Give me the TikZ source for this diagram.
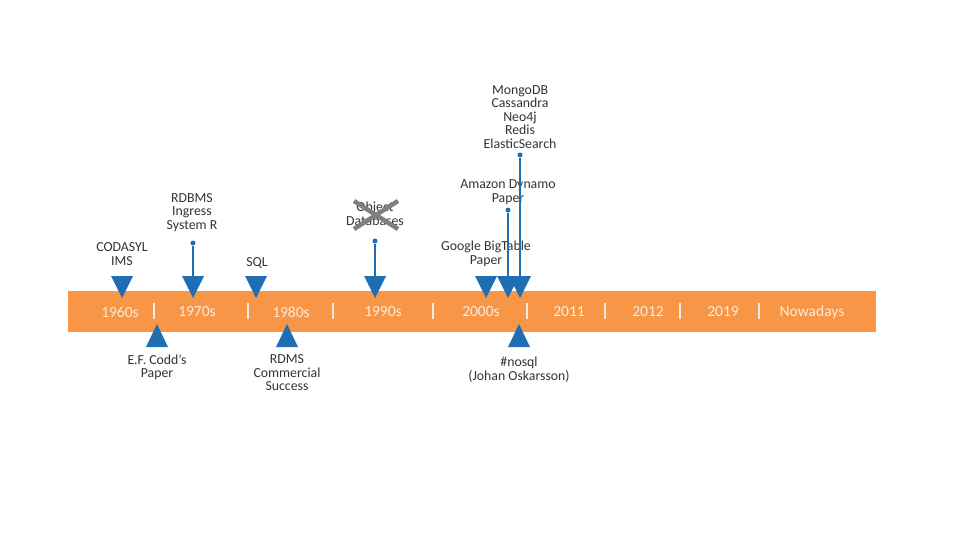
\documentclass[tikz,border=0pt]{standalone}
\usepackage{fontspec}
\setmainfont{Carlito}
\definecolor{barO}{HTML}{F79646}
\definecolor{tipB}{HTML}{1F6EB4}
\definecolor{txtG}{HTML}{333333}
\definecolor{yrC}{HTML}{FDEADA}
\definecolor{crossG}{HTML}{808080}
\newcommand{\downtip}[2]{% name x
  \fill[tipB] ({#2-11},276) -- ({#2+11},276) -- (#2,298) -- cycle;
  \coordinate (#1) at (#2,277);
}
\newcommand{\uptip}[2]{% name x
  \fill[tipB] ({#2-11},347) -- ({#2+11},347) -- (#2,324) -- cycle;
  \coordinate (#1) at (#2,347);
}
\begin{document}
\begin{tikzpicture}[x=1pt, y=-1pt,
  lbl/.style={text=txtG, align=center, inner sep=0pt, font=\fontsize{13.8}{13.5}\selectfont},
  yr/.style={text=yrC, inner sep=0pt, font=\fontsize{15.5}{16}\selectfont},
  stem/.style={tipB, line width=2pt},
  dot/.style={circle, fill=tipB, inner sep=0pt, minimum size=5pt}]
  \useasboundingbox (0,0) rectangle (960,540);

  % the timeline bar with its periods
  \fill[barO] (68,291) rectangle (876,332);
  \foreach \x/\t in {120/1960s, 197/1970s, 291/1980s, 383/1990s, 481/2000s,
                     569/2011, 648/2012, 723/2019, 812/Nowadays}
    \node[yr] (p\t) at (\x,312) {\t};
  \foreach \x in {154, 248, 333, 433, 527, 605, 680, 759}
    \draw[yrC, line width=1.8pt] (\x,303) -- (\x,319);

  % markers above the bar
  \downtip{tCodasyl}{122}
  \downtip{tRdbms}{193}
  \downtip{tSql}{256}
  \downtip{tObject}{375}
  \downtip{tGoogle}{486}
  \downtip{tAmazon}{508}
  \downtip{tMongo}{520}

  % markers below the bar
  \uptip{tCodd}{157}
  \uptip{tRdms}{287}
  \uptip{tNosql}{519}

  % labels
  \node[lbl] (lCodasyl) at (122,254) {CODASYL\\IMS};
  \node[lbl] (lRdbms) at (192,212.5) {RDBMS\\Ingress\\System R};
  \node[lbl] (lSql) at (257,263) {SQL};
  \node[lbl] (lObject) at (375,214) {Object\\Databases};
  \node[lbl] (lGoogle) at (486,254) {Google BigTable\\Paper};
  \node[lbl] (lAmazon) at (508,192) {Amazon Dynamo\\Paper};
  \node[lbl] (lMongo) at (520,117) {MongoDB\\Cassandra\\Neo4j\\Redis\\ElasticSearch};
  \node[lbl] (lCodd) at (157,367) {E.F. Codd’s\\Paper};
  \node[lbl] (lRdms) at (287,373) {RDMS\\Commercial\\Success};
  \node[lbl] (lNosql) at (519,369.5) {\#nosql\\(Johan Oskarsson)};

  % crossed out
  \draw[crossG, line width=4.5pt] (354,201) -- (398,229);
  \draw[crossG, line width=4.5pt] (398,201) -- (354,229);

  % stems
  \node[dot] (dRdbms) at (193,243) {};
  \node[dot] (dObject) at (375,241) {};
  \node[dot] (dAmazon) at (508,210) {};
  \node[dot] (dMongo) at (520,155) {};
  \draw[stem] (dRdbms) -- (tRdbms);
  \draw[stem] (dObject) -- (tObject);
  \draw[stem] (dAmazon) -- (tAmazon);
  \draw[stem] (dMongo) -- (tMongo);
\end{tikzpicture}
\end{document}
